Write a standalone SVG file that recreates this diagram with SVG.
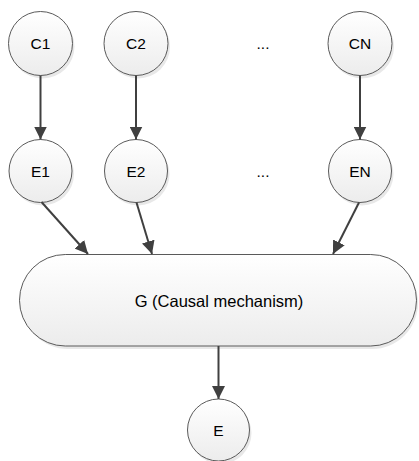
<svg xmlns="http://www.w3.org/2000/svg" width="419" height="461" viewBox="0 0 419 461">
  <defs>
    <linearGradient id="fill" x1="0" y1="0" x2="0" y2="1">
      <stop offset="0" stop-color="#ffffff"/>
      <stop offset="1" stop-color="#ececec"/>
    </linearGradient>
    <marker id="arrow" viewBox="0 0 10 10" refX="10" refY="5" markerWidth="6.5" markerHeight="6.5" markerUnits="strokeWidth" orient="auto">
      <path d="M0,0 L10,5 L0,10 z" fill="#404040"/>
    </marker>
  </defs>
  <style>
    .node { fill: url(#fill); stroke: #5a5a5a; stroke-width: 1; }
    .shadow { fill: #d9d9d9; opacity: 0.6; }
    .label { font-family: "Liberation Sans", Arial, sans-serif; font-size: 15.5px; fill: #000000; text-anchor: middle; dominant-baseline: central; }
    .big { font-size: 16.5px; }
    .edge { stroke: #404040; stroke-width: 2; fill: none; marker-end: url(#arrow); }
  </style>
  <rect width="419" height="461" fill="#ffffff"/>

  <g id="C1"><circle class="shadow" cx="42.5" cy="46.5" r="32"/><circle class="node" cx="40.5" cy="43.5" r="32"/><text class="label" x="40.5" y="43.5">C1</text></g>
  <g id="C2"><circle class="shadow" cx="138" cy="46.5" r="32"/><circle class="node" cx="136" cy="43.5" r="32"/><text class="label" x="136" y="43.5">C2</text></g>
  <g id="dots1"><text class="label" x="263" y="43.5">...</text></g>
  <g id="CN"><circle class="shadow" cx="362" cy="46.5" r="32"/><circle class="node" cx="360" cy="43.5" r="32"/><text class="label" x="360" y="43.5">CN</text></g>

  <g id="E1"><circle class="shadow" cx="42.5" cy="174" r="31.5"/><circle class="node" cx="40.5" cy="171" r="31.5"/><text class="label" x="40.5" y="171">E1</text></g>
  <g id="E2"><circle class="shadow" cx="138" cy="174" r="31.5"/><circle class="node" cx="136" cy="171" r="31.5"/><text class="label" x="136" y="171">E2</text></g>
  <g id="dots2"><text class="label" x="263" y="171">...</text></g>
  <g id="EN"><circle class="shadow" cx="362" cy="174" r="31.5"/><circle class="node" cx="360" cy="171" r="31.5"/><text class="label" x="360" y="171">EN</text></g>

  <g id="G"><rect class="shadow" x="22" y="257" width="396" height="92" rx="46"/><rect class="node" x="19.5" y="254.5" width="397" height="91.5" rx="45.75"/><text class="label big" x="219" y="301">G (Causal mechanism)</text></g>

  <g id="E"><circle class="shadow" cx="220.5" cy="433" r="31"/><circle class="node" cx="218.5" cy="430" r="31"/><text class="label" x="218.5" y="430">E</text></g>

  <g id="connectors">
    <line class="edge" x1="40.5" y1="75.5" x2="40.5" y2="139.5"/>
    <line class="edge" x1="136" y1="75.5" x2="136" y2="139.5"/>
    <line class="edge" x1="360" y1="75.5" x2="360" y2="139.5"/>
    <line class="edge" x1="41.5" y1="202" x2="88" y2="254"/>
    <line class="edge" x1="136.5" y1="202.5" x2="152" y2="254"/>
    <line class="edge" x1="359" y1="202.5" x2="333" y2="254"/>
    <line class="edge" x1="218.5" y1="346" x2="218.5" y2="399"/>
  </g>
</svg>
